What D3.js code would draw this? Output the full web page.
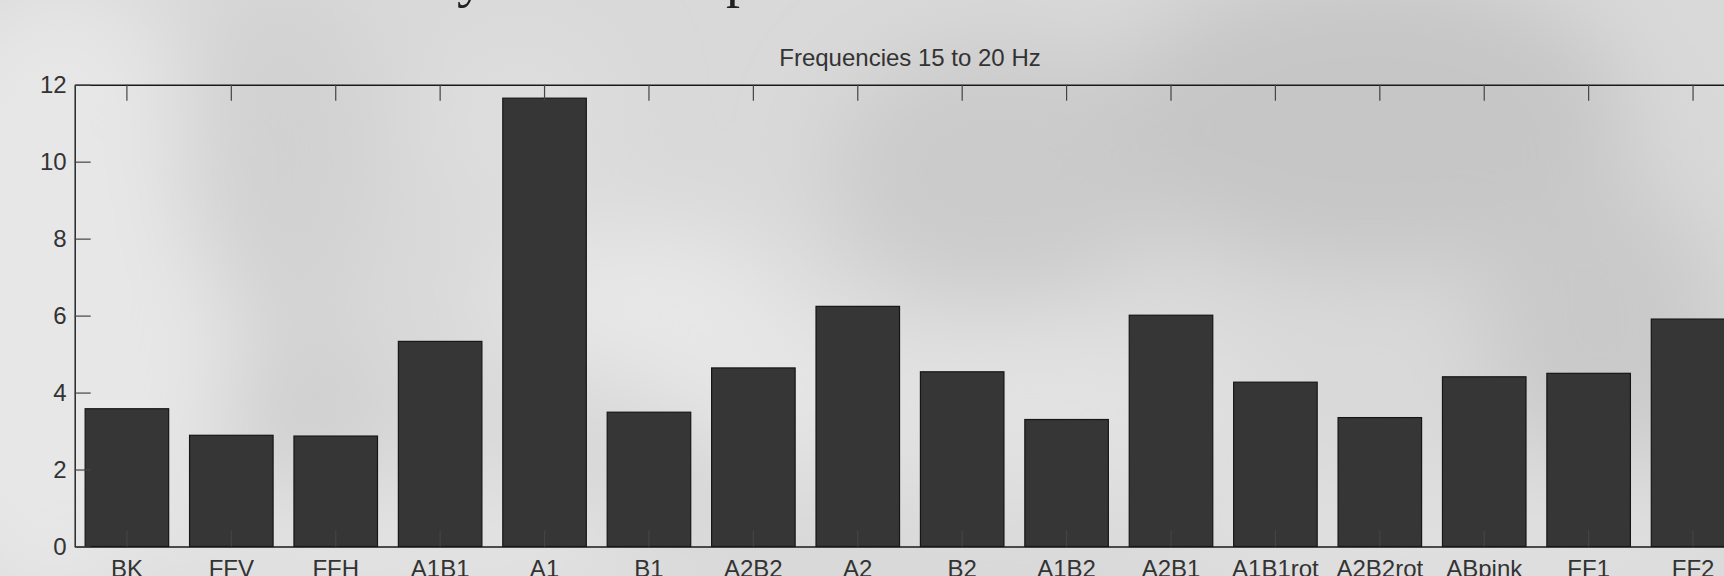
<!DOCTYPE html>
<html>
<head>
<meta charset="utf-8">
<script src="https://cdn.jsdelivr.net/npm/d3@7"></script>
<style>
  html, body { margin: 0; padding: 0; background: #d9d9d9; overflow: hidden; }
  svg { display: block; }
</style>
</head>
<body>
<script>
// Mean band power per condition, 15–20 Hz
const categories = ["BK", "FFV", "FFH", "A1B1", "A1", "B1", "A2B2", "A2", "B2", "A1B2",
                    "A2B1", "A1B1rot", "A2B2rot", "ABpink", "FF1", "FF2"];
const values = [3.58, 2.89, 2.87, 5.33, 11.65, 3.49, 4.64, 6.24, 4.54, 3.30,
                6.01, 4.27, 3.35, 4.41, 4.50, 5.91];
const yTicks = [0, 2, 4, 6, 8, 10, 12];
const titleText = "Frequencies 15 to 20 Hz";

(function () {
const W = 1724, H = 576;
const plotLeft = 74.7, plotTop = 84.7, plotBottom = 546.5;
const step = 104.41;
const plotRight = plotLeft + step * categories.length;

const svg = d3.select("body").append("svg")
  .attr("width", W).attr("height", H);

// Mottled grey backdrop
const defs = svg.append("defs");
defs.append("filter").attr("id", "soft")
  .attr("x", "-50%").attr("y", "-50%").attr("width", "200%").attr("height", "200%")
  .append("feGaussianBlur").attr("stdDeviation", 45);

const bg = svg.append("g");
bg.append("rect").attr("width", W).attr("height", H).attr("fill", "#d9d9d9");
const blobs = bg.append("g").attr("filter", "url(#soft)");
[
  [60, 300, 170, 320, "#e7e7e7"],
  [280, 150, 100, 170, "#d1d1d1"],
  [310, 420, 70, 90, "#cfcfcf"],
  [520, 120, 90, 90, "#dedede"],
  [640, 300, 150, 70, "#e8e8e8"],
  [780, 390, 140, 80, "#e6e6e6"],
  [1000, 170, 170, 130, "#cbcbcb"],
  [1370, 120, 260, 150, "#c6c6c6"],
  [1600, 320, 120, 140, "#c9c9c9"],
  [1710, 130, 40, 60, "#d8d8d8"],
  [1040, 410, 220, 90, "#e2e2e2"],
  [400, 545, 320, 60, "#e3e3e3"],
  [1450, 540, 300, 60, "#e0e0e0"],
  [660, 480, 70, 60, "#d3d3d3"]
].forEach(([cx, cy, rx, ry, c]) => {
  blobs.append("ellipse").attr("cx", cx).attr("cy", cy)
    .attr("rx", rx).attr("ry", ry).attr("fill", c);
});

// Large heading sitting above the frame (only its lower part falls inside)
const headFont = "'Liberation Serif', 'DejaVu Serif', serif";
svg.append("text").attr("x", 457).attr("y", -4)
  .attr("font-family", headFont).attr("font-size", 56).attr("fill", "#222").text("y");
svg.append("text").attr("x", 726).attr("y", -4)
  .attr("font-family", headFont).attr("font-size", 56).attr("fill", "#222").text("p");

// Scales
const x = d3.scaleBand().domain(categories).range([plotLeft, plotRight])
  .paddingInner(0.2).paddingOuter(0.1);
const y = d3.scaleLinear().domain([0, 12]).range([plotBottom, plotTop]);

// Bars
svg.append("g").selectAll("rect").data(values).join("rect")
  .attr("x", (d, i) => x(categories[i]))
  .attr("y", d => y(d))
  .attr("width", x.bandwidth())
  .attr("height", d => y(0) - y(d))
  .attr("fill", "#363636")
  .attr("stroke", "#161616")
  .attr("stroke-width", 1.2);

const font = "'Liberation Sans', Arial, sans-serif";
function styleAxis(g) {
  g.select(".domain").attr("stroke", "#1a1a1a").attr("stroke-width", 1.4);
  g.selectAll(".tick line").attr("stroke", "#444").attr("stroke-width", 1.2);
  g.selectAll(".tick text").attr("font-family", font).attr("font-size", 24).attr("fill", "#333");
}

// Axes, ticks pointing inward
svg.append("g").attr("transform", `translate(0,${plotBottom})`)
  .call(d3.axisBottom(x).tickSize(-16).tickSizeOuter(0).tickPadding(13.5))
  .call(styleAxis);
svg.append("g").attr("transform", `translate(0,${plotTop})`)
  .call(d3.axisTop(x).tickSize(-16).tickSizeOuter(0).tickFormat(""))
  .call(styleAxis);
svg.append("g").attr("transform", `translate(${plotLeft},0)`)
  .call(d3.axisLeft(y).tickValues(yTicks).tickSize(-16).tickSizeOuter(0).tickPadding(8))
  .call(styleAxis);
svg.append("g").attr("transform", `translate(${plotRight},0)`)
  .call(d3.axisRight(y).tickValues(yTicks).tickSize(-16).tickSizeOuter(0).tickFormat(""))
  .call(styleAxis);

// Title
svg.append("text")
  .attr("x", (plotLeft + plotRight) / 2).attr("y", 65.7)
  .attr("text-anchor", "middle")
  .attr("font-family", font).attr("font-size", 24).attr("fill", "#333")
  .text(titleText);
})();
</script>
</body>
</html>
